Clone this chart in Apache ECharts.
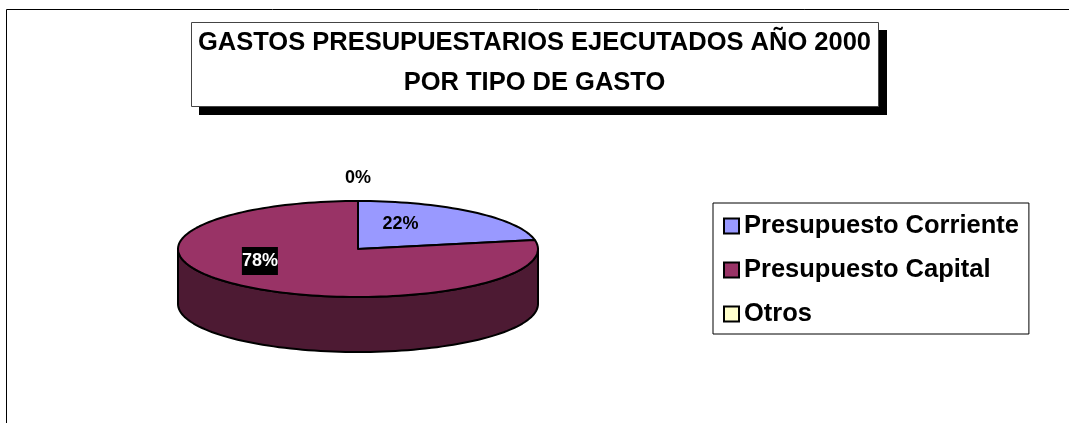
<!DOCTYPE html>
<html>
<head>
<meta charset="utf-8">
<style>
  html, body { margin: 0; padding: 0; background: #fff; }
  #container { width: 1069px; height: 423px; }
</style>
<script src="https://cdn.jsdelivr.net/npm/echarts@6/dist/echarts.min.js"></script>
</head>
<body>
<div id="container"></div>
<script>
// data
var titleText = 'GASTOS PRESUPUESTARIOS EJECUTADOS AÑO 2000\nPOR TIPO DE GASTO';
var categories = ['Presupuesto Corriente', 'Presupuesto Capital', 'Otros'];
var values = [22, 78, 0];

var colors = ['#9999FF', '#993366', '#FFFFCC'];
var sideColors = ['#4D4D80', '#4D1A33', '#808066'];
var font = 'Liberation Sans, Arial, sans-serif';

// 3d pie geometry
var cx = 358, cy = 249, rx = 180, ry = 48, depth = 55;
// label position along the mid angle, as fraction of rx / ry
var labelPos = [[0.37, 0.68], [0.855, 0.325], [0, 1.47]];
var labelFill = ['#000', '#fff', '#000'];
var labelBg = [null, '#000', null];

var total = values.reduce(function (s, v) { return s + v; }, 0);
var starts = [];
var acc = 0;
for (var i = 0; i < values.length; i++) {
    starts.push(acc / total * 360);
    acc += values[i];
}

function ellPt(deg, dy) {
    var r = deg * Math.PI / 180;
    return [cx + rx * Math.sin(r), cy - ry * Math.cos(r) + (dy || 0)];
}
function arcPts(a, b, dy) {
    var pts = [];
    var n = Math.max(2, Math.ceil((b - a) / 2));
    for (var k = 0; k <= n; k++) pts.push(ellPt(a + (b - a) * k / n, dy));
    return pts;
}

function renderSlice(params, api) {
    var i = params.seriesIndex;
    var v = api.value(0);
    var a0 = starts[i];
    var a1 = a0 + v / total * 360;
    var children = [];
    var s = Math.max(a0, 90), e = Math.min(a1, 270);
    if (e > s) {
        var topArc = arcPts(s, e, 0);
        var botArc = arcPts(s, e, depth).reverse();
        children.push({
            type: 'polygon',
            shape: { points: topArc.concat(botArc) },
            style: { fill: sideColors[i], stroke: '#000', lineWidth: 2, lineJoin: 'round' }
        });
    }
    if (a1 > a0) {
        children.push({
            type: 'polygon',
            shape: { points: [[cx, cy]].concat(arcPts(a0, a1, 0)) },
            style: { fill: colors[i], stroke: '#000', lineWidth: 2, lineJoin: 'round' }
        });
    }
    var mid = (a0 + a1) / 2 * Math.PI / 180;
    var pct = Math.round(v / total * 100) + '%';
    children.push({
        type: 'text',
        x: cx + Math.sin(mid) * rx * labelPos[i][0],
        y: cy - Math.cos(mid) * ry * labelPos[i][1],
        z2: 10,
        style: {
            text: pct,
            fill: labelFill[i],
            font: 'bold 18px ' + font,
            align: 'center',
            verticalAlign: 'middle',
            backgroundColor: labelBg[i] || 'transparent',
            padding: labelBg[i] ? [5, 0, 5, 0] : 0
        }
    });
    return { type: 'group', children: children };
}

var dom = document.getElementById('container');
var myChart = echarts.init(dom);

var series = categories.map(function (name, i) {
    return {
        name: name,
        type: 'custom',
        coordinateSystem: 'none',
        itemStyle: { color: colors[i] },
        renderItem: renderSlice,
        data: [[values[i]]]
    };
});

var option = {
    animation: false,
    color: colors,
    title: {
        text: titleText,
        left: 'center',
        top: 23,
        padding: 0,
        textStyle: {
            fontFamily: font,
            fontWeight: 'bold',
            fontSize: 25.5,
            lineHeight: 40,
            color: '#000'
        }
    },
    legend: {
        data: categories,
        orient: 'vertical',
        left: 713,
        top: 203,
        icon: 'rect',
        itemWidth: 15,
        itemHeight: 15,
        itemGap: 18,
        padding: [10, 10, 7, 10],
        backgroundColor: '#fff',
        borderColor: '#000',
        borderWidth: 1,
        itemStyle: { borderColor: '#000', borderWidth: 2 },
        textStyle: {
            fontFamily: font,
            fontWeight: 'bold',
            fontSize: 25.5,
            color: '#000'
        },
        selectedMode: false
    },
    graphic: [
        {
            type: 'rect',
            z: 0,
            shape: { x: 6.5, y: 9.5, width: 1200, height: 600 },
            style: { fill: 'none', stroke: '#000', lineWidth: 1 }
        },
        {
            type: 'rect',
            z: 0,
            shape: { x: 199, y: 30, width: 688, height: 85 },
            style: { fill: '#000' }
        },
        {
            type: 'rect',
            z: 0,
            shape: { x: 191.5, y: 22.5, width: 687, height: 84 },
            style: { fill: '#fff', stroke: '#444', lineWidth: 1 }
        }
    ],
    series: series
};

if (option && typeof option === 'object') {
    myChart.setOption(option, true);
}
</script>
</body>
</html>
